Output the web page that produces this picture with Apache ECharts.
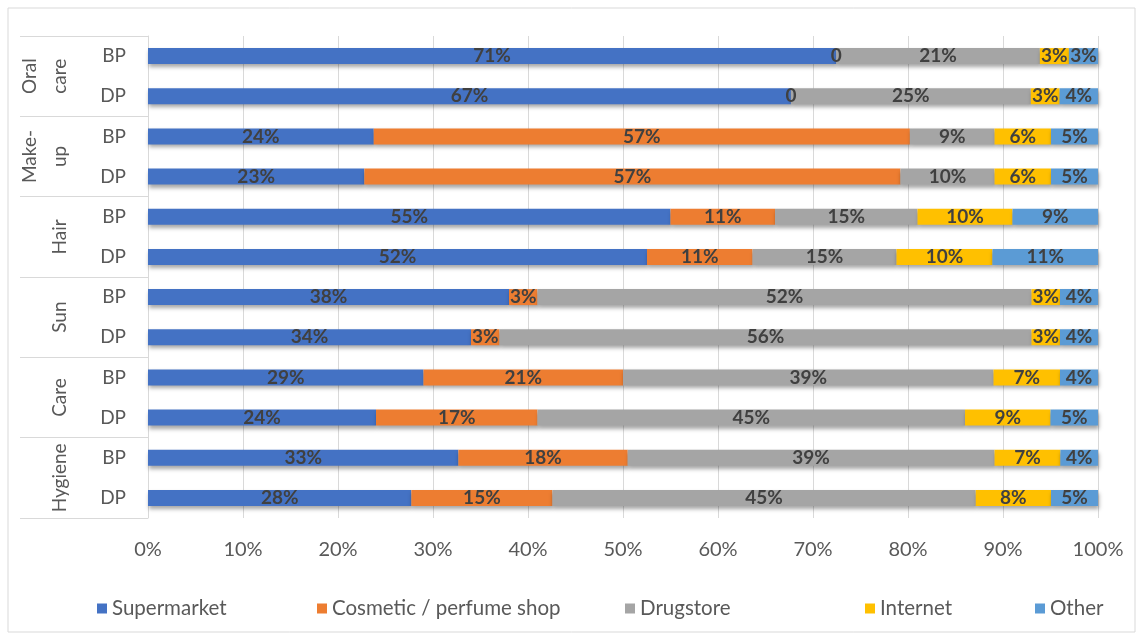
<!DOCTYPE html>
<html>
<head>
<meta charset="utf-8">
<script src="https://cdn.jsdelivr.net/npm/echarts@6/dist/echarts.min.js"></script>
<style>
  html, body { margin: 0; padding: 0; background: #fff; }
  #chart { width: 1142px; height: 635px; }
</style>
</head>
<body>
<div id="chart"></div>
<script>
const rows = ['BP', 'DP', 'BP', 'DP', 'BP', 'DP', 'BP', 'DP', 'BP', 'DP', 'BP', 'DP']
const groups = ['Oral\ncare', 'Make-\nup', 'Hair', 'Sun', 'Care', 'Hygiene']
const xTicks = [0, 10, 20, 30, 40, 50, 60, 70, 80, 90, 100]

const seriesNames = ['Supermarket', 'Cosmetic / perfume shop', 'Drugstore', 'Internet', 'Other']
const supermarket = [71, 67, 24, 23, 55, 52, 38, 34, 29, 24, 33, 28]
const cosmetic    = [0, 0, 57, 57, 11, 11, 3, 3, 21, 17, 18, 15]
const drugstore   = [21, 25, 9, 10, 15, 15, 52, 56, 39, 45, 39, 45]
const internet    = [3, 3, 6, 6, 10, 10, 3, 3, 7, 9, 7, 8]
const other       = [3, 4, 5, 5, 9, 11, 4, 4, 4, 5, 4, 5]

const colors = ['#4472C4', '#ED7D31', '#A5A5A5', '#FFC000', '#5B9BD5']
const legendLeft = [92, 312, 620, 860, 1030]

const raw = [supermarket, cosmetic, drugstore, internet, other]
// 100% stacked: each row is scaled to its own total, labels keep the raw values
const totals = rows.map((_, i) => raw.reduce((s, arr) => s + arr[i], 0))

const chart = echarts.init(document.getElementById('chart'))
const font = 'Lato, "Open Sans", sans-serif'

const option = {
  backgroundColor: '#fff',
  animation: false,
  graphic: [{
    type: 'rect',
    shape: { x: 8, y: 8, width: 1127, height: 624 },
    style: { fill: 'none', stroke: '#d9d9d9', lineWidth: 1 }
  }],
  grid: { left: 148, right: 44, top: 36, bottom: 117 },
  legend: seriesNames.map((name, i) => ({
    data: [name],
    left: legendLeft[i],
    top: 593,
    icon: 'rect',
    itemWidth: 10,
    itemHeight: 10,
    itemGap: 6,
    textStyle: { color: '#595959', fontSize: 20.5, fontFamily: font }
  })),
  xAxis: {
    type: 'value',
    min: 0,
    max: 100,
    interval: 10,
    axisLine: { show: false },
    axisTick: { show: false },
    axisLabel: {
      color: '#595959',
      fontSize: 20,
      fontFamily: font,
      margin: 22,
      formatter: v => xTicks.includes(v) ? v + '%' : ''
    },
    splitLine: { lineStyle: { color: '#d9d9d9' } }
  },
  yAxis: [{
    type: 'category',
    data: rows,
    inverse: true,
    axisLine: { show: true, lineStyle: { color: '#d9d9d9' } },
    axisTick: { show: false },
    axisLabel: { color: '#595959', fontSize: 19, fontFamily: font, margin: 22 }
  }, {
    type: 'category',
    data: groups,
    inverse: true,
    position: 'left',
    offset: 0,
    axisLine: { show: false },
    axisTick: { show: true, interval: 0, length: 128, lineStyle: { color: '#d9d9d9' } },
    axisLabel: {
      interval: 0,
      color: '#595959',
      fontSize: 19,
      fontFamily: font,
      rotate: 90,
      margin: 73,
      lineHeight: 30
    }
  }],
  series: raw.map((arr, si) => ({
    name: seriesNames[si],
    type: 'bar',
    stack: 'total',
    yAxisIndex: 0,
    barWidth: 16,
    data: arr.map((v, i) => v / totals[i] * 100),
    itemStyle: {
      color: colors[si],
      shadowColor: 'rgba(0, 0, 0, 0.35)',
      shadowBlur: 4,
      shadowOffsetX: 1,
      shadowOffsetY: 3
    },
    label: {
      show: true,
      position: 'inside',
      color: '#404040',
      fontSize: 19,
      fontWeight: 'bold',
      fontFamily: font,
      formatter: p => {
        const v = arr[p.dataIndex]
        return v === 0 ? '0' : v + '%'
      }
    }
  }))
}

chart.setOption(option)
</script>
</body>
</html>
